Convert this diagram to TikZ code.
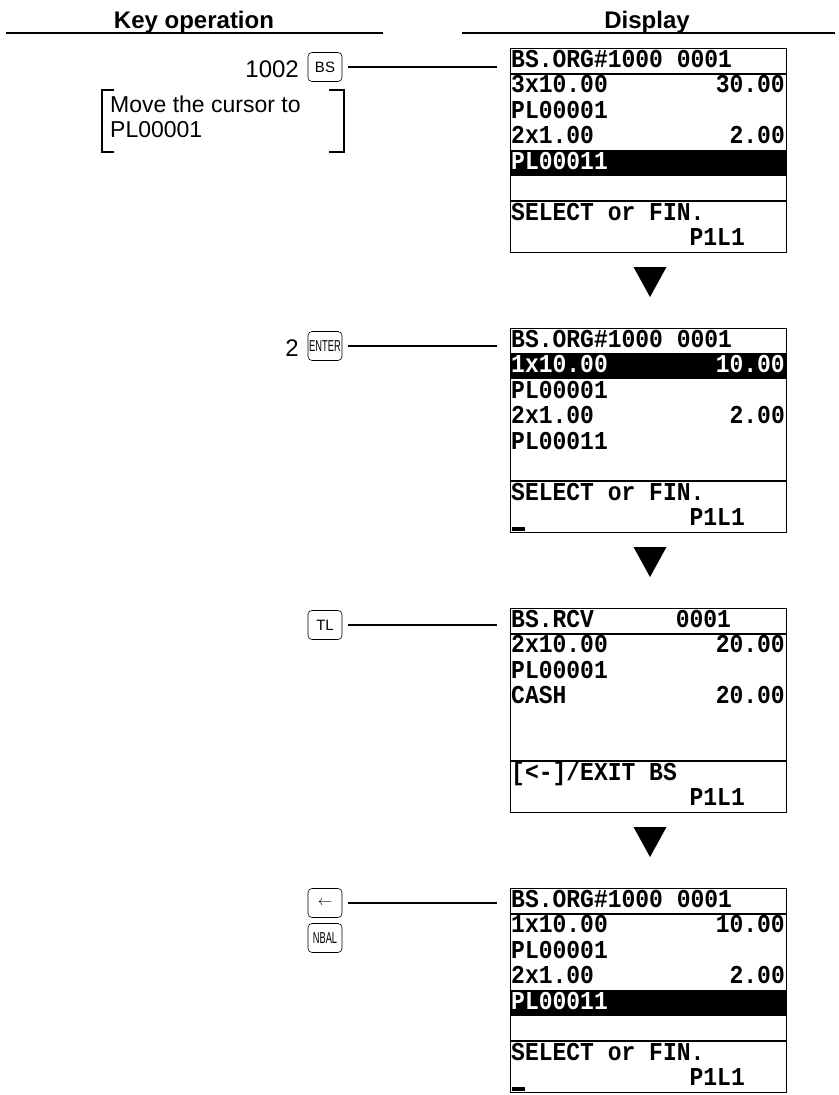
\documentclass[tikz,border=0pt]{standalone}
\usepackage{fontspec}
\setmainfont{Liberation Sans}
\newfontfamily\lcdfont{Liberation Mono}
\usetikzlibrary{calc}
\newcommand\lt[1]{\scalebox{1}[1.12]{#1}}
\tikzset{
  lcd/.style={font=\lcdfont\bfseries\fontsize{23}{23}\selectfont, inner sep=0pt, anchor=base west},
  lcdr/.style={lcd, anchor=base east},
  lcdw/.style={lcd, text=white},
  lcdwr/.style={lcdr, text=white},
  dispbox/.style={draw, line width=0.8pt, minimum width=276pt, minimum height=204pt, anchor=north west, inner sep=0pt},
  sepline/.style={line width=2pt},
  keybox/.style={draw, rounded corners=4pt, minimum width=34pt, minimum height=29pt, inner sep=0pt, line width=0.6pt, font=\fontsize{15}{15}\selectfont},
  keytxt/.style={font=\fontsize{24}{24}\selectfont, inner sep=0pt, anchor=east},
  lead/.style={line width=1.6pt, shorten <=6pt, shorten >=13pt},
  head/.style={font=\bfseries\fontsize{24}{24}\selectfont, inner sep=0pt, anchor=base},
  brk/.style={line width=1.8pt},
  note/.style={font=\fontsize{23}{25}\selectfont, inner sep=0pt, align=left, anchor=north west},
}
\begin{document}
\begin{tikzpicture}[x=1pt, y=-1pt]
\useasboundingbox (0,0) rectangle (838,1095);
% headers
\node[head] (h1) at (194,28) {Key operation};
\node[head] (h2) at (647,28) {Display};
\draw[line width=1.5pt] (6,33) -- (383,33);
\draw[line width=1.5pt] (462,33) -- (835,33);

% ---------- display 1
\begin{scope}[shift={(0,48)}]
\node[dispbox] (d1) at (510,0) {};
\fill (510,102) rectangle (786,127.5);
\draw[sepline] (510,25.5) -- (786,25.5);
\draw[sepline] (510,153) -- (786,153);
\node[lcd] at (511,19) {\lt{BS.ORG\#1000 0001}};
\node[lcd] at (511,44.5) {\lt{3x10.00}};
\node[lcdr] at (785,44.5) {\lt{30.00}};
\node[lcd] at (511,70) {\lt{PL00001}};
\node[lcd] at (511,95.5) {\lt{2x1.00}};
\node[lcdr] at (785,95.5) {\lt{2.00}};
\node[lcdw] at (511,121) {\lt{PL00011}};
\node[lcd] at (511,172) {\lt{SELECT or FIN.}};
\node[lcd] at (689.4,197.5) {\lt{P1L1}};
\end{scope}
\fill (633.5,267) -- (666.5,267) -- (650,297) -- cycle;

% ---------- display 2
\begin{scope}[shift={(0,328)}]
\node[dispbox] (d2) at (510,0) {};
\fill (510,25.5) rectangle (786,51);
\draw[sepline] (510,25.5) -- (786,25.5);
\draw[sepline] (510,153) -- (786,153);
\node[lcd] at (511,19) {\lt{BS.ORG\#1000 0001}};
\node[lcdw] at (511,44.5) {\lt{1x10.00}};
\node[lcdwr] at (785,44.5) {\lt{10.00}};
\node[lcd] at (511,70) {\lt{PL00001}};
\node[lcd] at (511,95.5) {\lt{2x1.00}};
\node[lcdr] at (785,95.5) {\lt{2.00}};
\node[lcd] at (511,121) {\lt{PL00011}};
\node[lcd] at (511,172) {\lt{SELECT or FIN.}};
\node[lcd] at (689.4,197.5) {\lt{P1L1}};
\fill (512,199) rectangle (525,203);
\end{scope}
\fill (633.5,547) -- (666.5,547) -- (650,577) -- cycle;

% ---------- display 3
\begin{scope}[shift={(0,608)}]
\node[dispbox] (d3) at (510,0) {};
\draw[sepline] (510,25.5) -- (786,25.5);
\draw[sepline] (510,153) -- (786,153);
\node[lcd] at (511,19) {\lt{BS.RCV}};
\node[lcd] at (675.6,19) {\lt{0001}};
\node[lcd] at (511,44.5) {\lt{2x10.00}};
\node[lcdr] at (785,44.5) {\lt{20.00}};
\node[lcd] at (511,70) {\lt{PL00001}};
\node[lcd] at (511,95.5) {\lt{CASH}};
\node[lcdr] at (785,95.5) {\lt{20.00}};
\node[lcd] at (511,172) {\lt{[<-]/EXIT BS}};
\node[lcd] at (689.4,197.5) {\lt{P1L1}};
\end{scope}
\fill (633.5,827) -- (666.5,827) -- (650,857) -- cycle;

% ---------- display 4
\begin{scope}[shift={(0,888)}]
\node[dispbox] (d4) at (510,0) {};
\fill (510,102) rectangle (786,127.5);
\draw[sepline] (510,25.5) -- (786,25.5);
\draw[sepline] (510,153) -- (786,153);
\node[lcd] at (511,19) {\lt{BS.ORG\#1000 0001}};
\node[lcd] at (511,44.5) {\lt{1x10.00}};
\node[lcdr] at (785,44.5) {\lt{10.00}};
\node[lcd] at (511,70) {\lt{PL00001}};
\node[lcd] at (511,95.5) {\lt{2x1.00}};
\node[lcdr] at (785,95.5) {\lt{2.00}};
\node[lcdw] at (511,121) {\lt{PL00011}};
\node[lcd] at (511,172) {\lt{SELECT or FIN.}};
\node[lcd] at (689.4,197.5) {\lt{P1L1}};
\fill (512,199) rectangle (525,203);
\end{scope}

% ---------- key operations
\node[keybox] (k1) at (325,67) {BS};
\node[keytxt] (t1) at (299,69) {1002};
\draw[lead] (k1.east) -- (k1.east -| d1.west);

\draw[brk] (114,90) -- (102,90) -- (102,152) -- (114,152);
\draw[brk] (329,90) -- (344,90) -- (344,152) -- (329,152);
\node[note] (m1) at (110,96) {Move the cursor to\\PL00001};

\node[keybox] (k2) at (325,346) {\scalebox{0.62}[1.05]{ENTER}};
\node[keytxt] (t2) at (299,348) {2};
\draw[lead] (k2.east) -- (k2.east -| d2.west);

\node[keybox] (k3) at (325,625) {TL};
\draw[lead] (k3.east) -- (k3.east -| d3.west);

\node[keybox] (k4) at (325,903) {$\leftarrow$};
\node[keybox] (k5) at (325,938) {\scalebox{0.62}[1.05]{NBAL}};
\draw[lead] (k4.east) -- (k4.east -| d4.west);
\end{tikzpicture}
\end{document}
